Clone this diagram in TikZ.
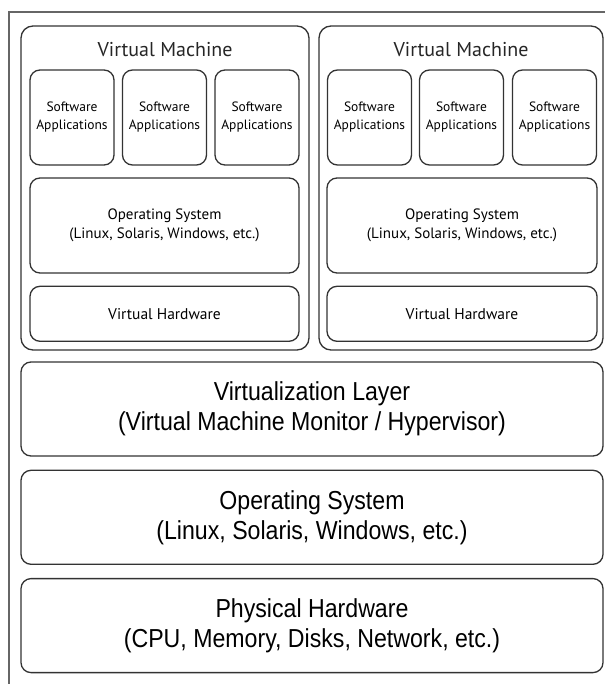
\documentclass[tikz,border=0pt]{standalone}
\usepackage{fontspec}
\setmainfont{PT Sans}
\newfontfamily\arialfont[FakeStretch=0.89]{Liberation Sans}
\usetikzlibrary{positioning}

\begin{document}
\begin{tikzpicture}[x=1pt,y=-1pt,node distance=13pt,
    box/.style={draw=black!80,line width=1.3pt,rounded corners=10pt,align=center,inner sep=0pt},
    vm node/.style={box,minimum height=324pt,rounded corners=12pt},
    app node/.style={box,minimum width=84pt,minimum height=95pt,font=\fontsize{13.5}{18}\selectfont},
    os node/.style={box,minimum width=270pt,minimum height=95pt,font=\fontsize{15}{19}\selectfont},
    hw node/.style={box,minimum width=270pt,minimum height=55pt,font=\fontsize{15.5}{19}\selectfont},
    layer node/.style={box,minimum width=582pt,minimum height=94pt,font=\arialfont\fontsize{26}{30}\selectfont},
    title node/.style={anchor=base,text=black!85,font=\fontsize{20}{24}\selectfont}]

        \useasboundingbox (0,0) rectangle (605,684);

        % Outer frame
        \draw[black!60,line width=1.2pt] (9,684) -- (9,12) -- (605,12);

        % Virtual machines
        \node[vm node,minimum width=288pt] (vmL) at (165,188) {};
        \node[vm node,minimum width=284pt] (vmR) at (461,188) {};
        \node[title node] (titleL) at (165,57) {Virtual Machine};
        \node[title node] (titleR) at (461,57) {Virtual Machine};

        % Left machine
        \node[app node] (appL1) at (72,117.5) {Software\\Applications};
        \node[app node] (appL2) at (164.5,117.5) {Software\\Applications};
        \node[app node] (appL3) at (257,117.5) {Software\\Applications};
        \node[os node,minimum width=269pt] (osL) at (164.5,225.5) {Operating System\\(Linux, Solaris, Windows, etc.)};
        \node[hw node,minimum width=269pt] (hwL) [below=12pt of osL] {Virtual Hardware};

        % Right machine
        \node[app node] (appR1) at (369.5,117.5) {Software\\Applications};
        \node[app node] (appR2) at (461.5,117.5) {Software\\Applications};
        \node[app node] (appR3) at (554.5,117.5) {Software\\Applications};
        \node[os node] (osR) at (462,225.5) {Operating System\\(Linux, Solaris, Windows, etc.)};
        \node[hw node] (hwR) [below=12pt of osR] {Virtual Hardware};

        % Host layers
        \node[layer node] (virt) at (312,409) {Virtualization Layer\\(Virtual Machine Monitor / Hypervisor)};
        \node[layer node] (hostos) [below=of virt] {Operating System\\(Linux, Solaris, Windows, etc.)};
        \node[layer node] (phys) [below=of hostos] {Physical Hardware\\(CPU, Memory, Disks, Network, etc.)};

        \end{tikzpicture}
\end{document}
